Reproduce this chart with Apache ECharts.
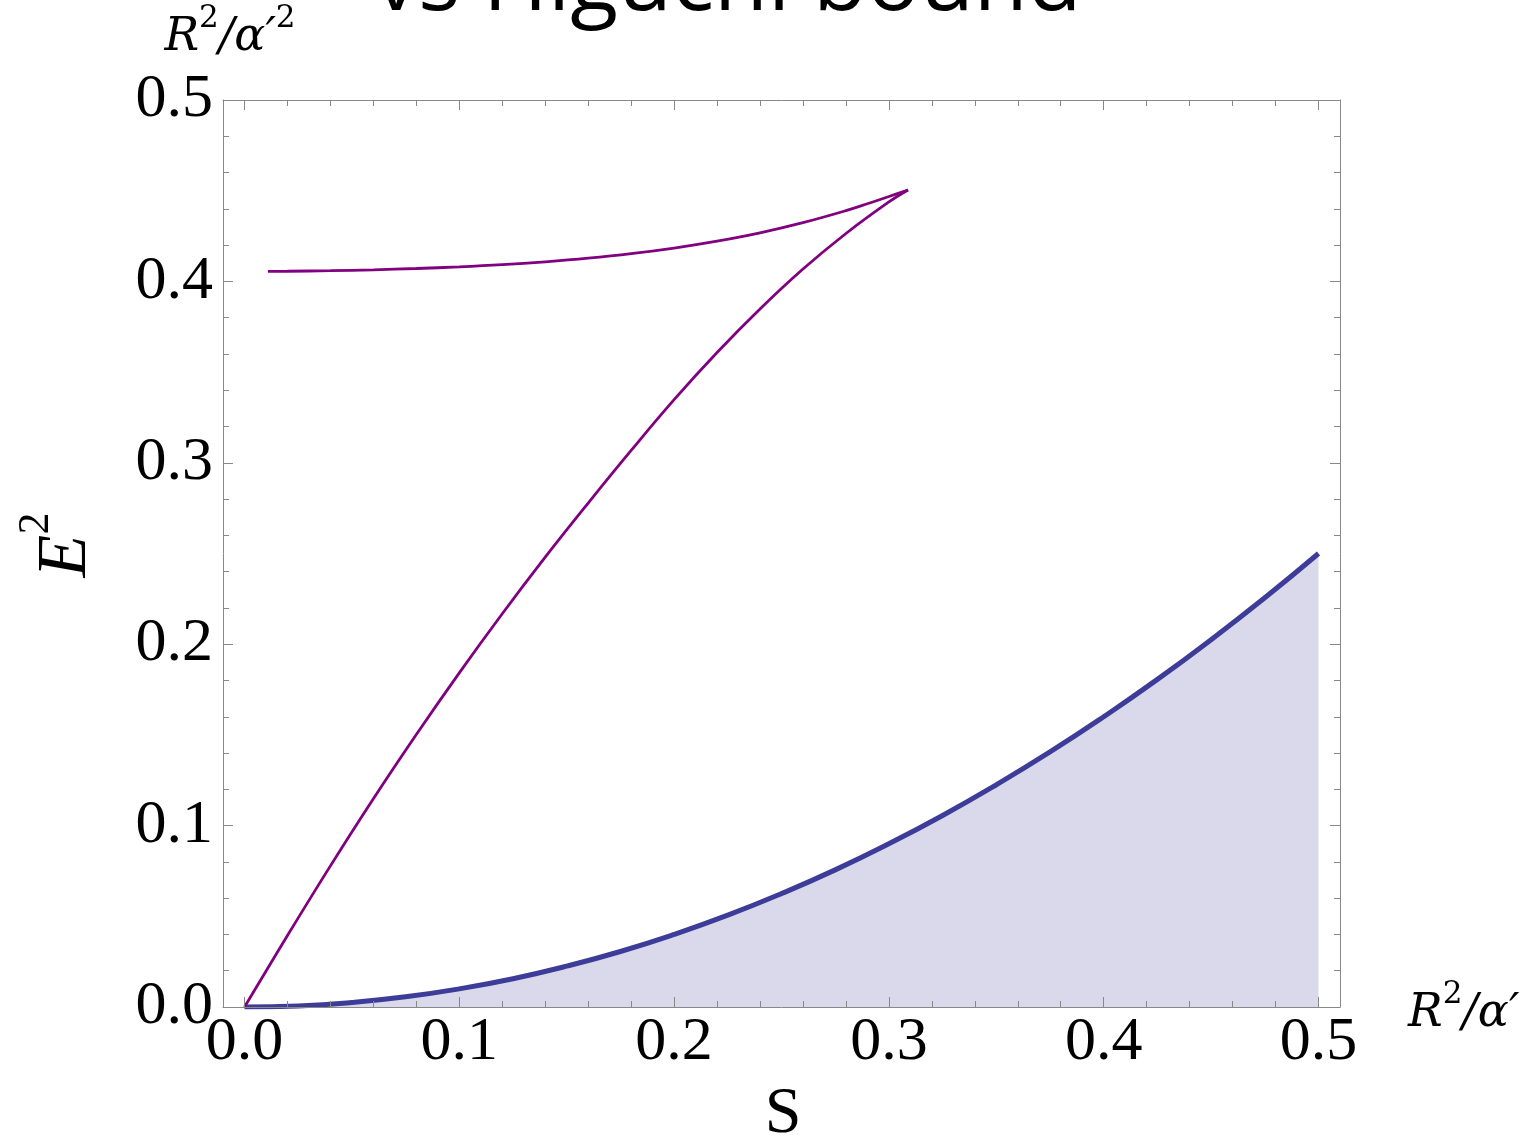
<!DOCTYPE html>
<html><head><meta charset="utf-8">
<script src="https://cdn.jsdelivr.net/npm/echarts@6/dist/echarts.min.js"></script>
<style>html,body{margin:0;padding:0;background:#fff;overflow:hidden}#c{width:1528px;height:1142px}</style>
</head><body><div id="c"></div>
<script>
// Purple curve: lower branch (from origin up to the cusp)
const lowerS  = [0, 0.02, 0.04, 0.06, 0.08, 0.10, 0.12, 0.14, 0.16, 0.18, 0.20, 0.22, 0.24, 0.26, 0.28, 0.30, 0.3089];
const lowerE2 = [0, 0.0394, 0.0778, 0.1148, 0.1502, 0.1842, 0.2168, 0.2480, 0.2778, 0.3068, 0.3348, 0.3608, 0.3848, 0.4068, 0.4264, 0.4438, 0.4504];
// Purple curve: upper branch (from the cusp back to the left)
const upperS  = [0.3089, 0.30, 0.29, 0.28, 0.26, 0.24, 0.22, 0.20, 0.18, 0.16, 0.14, 0.12, 0.10, 0.08, 0.06, 0.04, 0.02, 0.0109];
const upperE2 = [0.4504, 0.4468, 0.4428, 0.4390, 0.4324, 0.4268, 0.4222, 0.4184, 0.4153, 0.4128, 0.4108, 0.4092, 0.4080, 0.4071, 0.4064, 0.4059, 0.4056, 0.4055];
// Blue bound (shaded below)
const boundS  = [0, 0.025, 0.05, 0.075, 0.1, 0.125, 0.15, 0.175, 0.2, 0.225, 0.25, 0.275, 0.3, 0.325, 0.35, 0.375, 0.4, 0.425, 0.45, 0.475, 0.5];
const boundE2 = [0, 0.0006, 0.0025, 0.0056, 0.01, 0.0156, 0.0225, 0.0306, 0.04, 0.0506, 0.0625, 0.0756, 0.09, 0.1056, 0.1225, 0.1406, 0.16, 0.1806, 0.2025, 0.2256, 0.25];
// Texts
const titleText = 'vs Higuchi bound';
const xName = 'S';
const yNameRich = '{m|E}{s|2}';
const xUnitRich = '{m|R}{s|2}{m|/α′}';
const yUnitRich = '{m|R}{s|2}{m|/α′}{s|2}';

const zip = (a, b) => a.map((v, i) => [v, b[i]]);
const frameColor = '#888888';
const serif = '"Liberation Serif", "Times New Roman", serif';
const mathFont = '"DejaVu Serif", serif';
const fmt = v => v.toFixed(1);

const chart = echarts.init(document.getElementById('c'), null, {renderer: 'canvas'});

const dataXAxis = (pos, labels) => ({
  gridIndex: 0, type: 'value', position: pos, min: 0, max: 0.5, interval: 0.1, z: 5,
  axisLine: {show: false},
  axisTick: {show: true, inside: true, length: 10, lineStyle: {color: frameColor, width: 1}},
  minorTick: {show: true, splitNumber: 5, length: 6, lineStyle: {color: frameColor, width: 1}},
  axisLabel: {show: labels, formatter: fmt, fontFamily: serif, fontSize: 62, color: '#000', margin: 5},
  splitLine: {show: false}, minorSplitLine: {show: false}
});
const frameXAxis = (pos) => ({
  gridIndex: 1, type: 'value', position: pos, min: 0, max: 1, z: 5,
  axisLine: {show: true, onZero: false, lineStyle: {color: frameColor, width: 1}},
  axisTick: {show: false}, axisLabel: {show: false}, splitLine: {show: false}
});
const frameYAxis = (pos, labels) => ({
  gridIndex: 1, type: 'value', position: pos, min: 0, max: 0.5, interval: 0.1, z: 5,
  axisLine: {show: true, onZero: false, lineStyle: {color: frameColor, width: 1}},
  axisTick: {show: true, inside: true, length: 10, lineStyle: {color: frameColor, width: 1}},
  minorTick: {show: true, splitNumber: 5, length: 6, lineStyle: {color: frameColor, width: 1}},
  axisLabel: {show: labels, formatter: fmt, fontFamily: serif, fontSize: 62, color: '#000', margin: 10},
  splitLine: {show: false}, minorSplitLine: {show: false}
});

const unitRich = {
  m: {fontFamily: mathFont, fontStyle: 'italic', fontSize: 46, lineHeight: 58, verticalAlign: 'bottom', fill: '#000'},
  s: {fontFamily: mathFont, fontSize: 31, lineHeight: 31, verticalAlign: 'top', fill: '#000'}
};

const option = {
  animation: false,
  backgroundColor: '#ffffff',
  grid: [
    {left: 244.5, right: 209.5, top: 100, bottom: 135},
    {left: 223, right: 188, top: 100, bottom: 135}
  ],
  xAxis: [dataXAxis('bottom', true), dataXAxis('top', false), frameXAxis('bottom'), frameXAxis('top')],
  yAxis: [
    {gridIndex: 0, type: 'value', min: 0, max: 0.5, show: false},
    frameYAxis('left', true),
    frameYAxis('right', false)
  ],
  series: [
    {type: 'line', xAxisIndex: 0, yAxisIndex: 0, data: zip(boundS, boundE2), smooth: true, symbol: 'none',
     lineStyle: {color: '#3d3d99', width: 5}, areaStyle: {color: '#d9d9eb', opacity: 1, origin: 'start'}, z: 2},
    {type: 'line', xAxisIndex: 0, yAxisIndex: 0, data: zip(lowerS, lowerE2), smooth: 0.4, symbol: 'none',
     lineStyle: {color: '#800080', width: 2.8}, z: 3},
    {type: 'line', xAxisIndex: 0, yAxisIndex: 0, data: zip(upperS, upperE2), smooth: 0.4, symbol: 'none',
     lineStyle: {color: '#800080', width: 2.8}, z: 3}
  ],
  graphic: [
    {type: 'text', x: 728, y: -15, z: 10, style: {text: titleText, fontFamily: '"Open Sans", "Noto Sans", sans-serif', fontSize: 88, fill: '#000', align: 'center', verticalAlign: 'middle'}},
    {type: 'text', x: 230, y: 32, z: 10, style: {text: yUnitRich, rich: unitRich, align: 'center', verticalAlign: 'middle'}},
    {type: 'text', x: 1408, y: 1008, z: 10, style: {text: xUnitRich, rich: unitRich, align: 'left', verticalAlign: 'middle'}},
    {type: 'text', x: 58, y: 545, rotation: Math.PI / 2, z: 10, style: {text: yNameRich, align: 'center', verticalAlign: 'middle', rich: {
      m: {fontFamily: serif, fontStyle: 'italic', fontSize: 70, lineHeight: 88, verticalAlign: 'bottom', fill: '#000'},
      s: {fontFamily: serif, fontSize: 44, lineHeight: 44, verticalAlign: 'top', fill: '#000'}
    }}},
    {type: 'text', x: 783, y: 1115, z: 10, style: {text: xName, fontFamily: serif, fontSize: 66, fill: '#000', align: 'center', verticalAlign: 'middle'}}
  ]
};
chart.setOption(option);
</script>
</body></html>
